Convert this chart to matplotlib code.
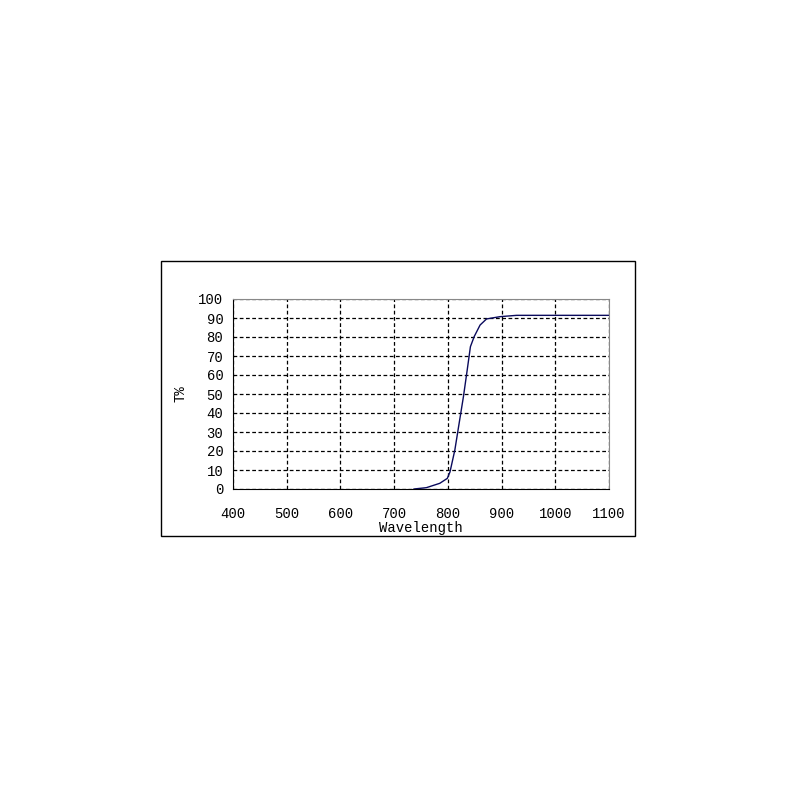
import numpy as np
import matplotlib
matplotlib.use("Agg")
import matplotlib.pyplot as plt
from matplotlib.patches import Rectangle

# transmission curve
wavelength = [737, 760, 785, 799, 804, 813, 821, 829, 836, 842, 849, 860, 872, 897, 928, 1100]
transmission = [0.0, 0.7, 3.0, 5.6, 9.0, 20.5, 34.6, 48.6, 62.6, 74.9, 80.2, 86.3, 89.5, 90.7, 91.4, 91.4]

x_ticks = [400, 500, 600, 700, 800, 900, 1000, 1100]
y_ticks = [0, 10, 20, 30, 40, 50, 60, 70, 80, 90, 100]

plt.rcParams['font.family'] = ['Liberation Mono', 'DejaVu Sans Mono']

fig = plt.figure(figsize=(8, 8), dpi=100)

# outer box around the chart
fig.patches.append(Rectangle((0.20125, 0.33), 0.5925, 0.34375, transform=fig.transFigure,
                             fill=False, edgecolor='black', linewidth=1.0))

ax = fig.add_axes([0.29125, 0.38875, 0.47, 0.2375])
ax.plot(wavelength, transmission, color='#0a0a5c', linewidth=1.0)

ax.set_xlim(400, 1100)
ax.set_ylim(0, 100)
ax.set_xticks(x_ticks)
ax.set_yticks(y_ticks)
ax.tick_params(length=0, labelsize=10)
ax.tick_params(axis='x', pad=13)
ax.tick_params(axis='y', pad=7)

ax.grid(True, color='black', linestyle=(0, (3, 2)), linewidth=0.9)
for s in ['top', 'right']:
    ax.spines[s].set_color('#888888')
for s in ['left', 'bottom']:
    ax.spines[s].set_color('black')

ax.set_xlabel("Wavelength", fontsize=10, labelpad=0)
ax.set_ylabel("T%", fontsize=10, labelpad=8)

fig.savefig("out.png", dpi=100)
